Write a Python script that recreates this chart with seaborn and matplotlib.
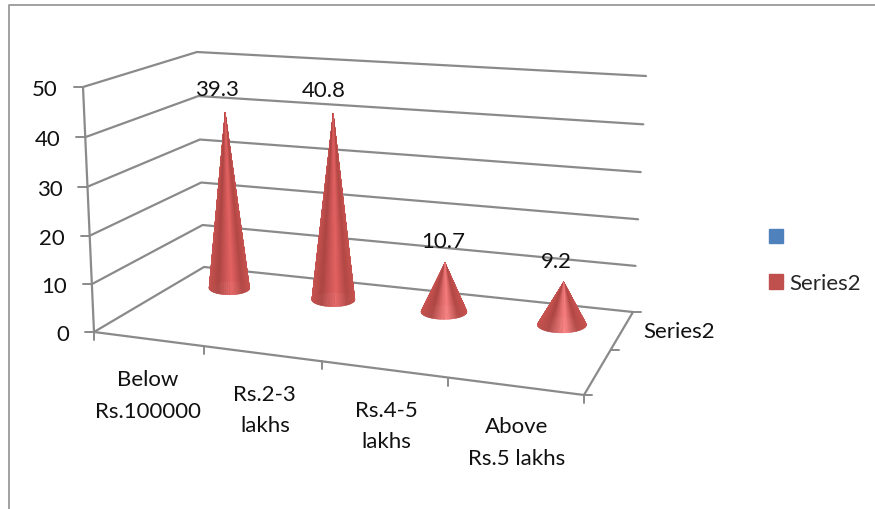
import numpy as np
import pandas as pd
import matplotlib
matplotlib.use("Agg")
import matplotlib.pyplot as plt
from matplotlib.collections import PolyCollection
from matplotlib.colors import to_rgb
from matplotlib.patches import Patch
import seaborn as sns

# Chart data
categories = ["Below\nRs.100000", "Rs.2-3\nlakhs", "Rs.4-5\nlakhs", "Above\nRs.5 lakhs"]
series_name = "Series2"
values = [39.3, 40.8, 10.7, 9.2]
value_ticks = [0, 10, 20, 30, 40, 50]

# Page position of the 3D box: floor corners and the page vector of the full axis height at each
unit_square = [(0, 0), (1, 0), (1, 1), (0, 1)]
floor_quad = [(94, 332), (584, 395), (633, 312), (204, 267)]
height_vectors = np.array([(-11, -245), (12, -252), (13, -236), (-7, -215)], float)
axis_max = 50.0
series_depth = 0.735
cone_nudge = 0.0045
cone_radius = 0.05
ellipse_ratio = 0.33
label_shift = [(-8, -23), (-9, -23), (-2, -22), (-7, -21)]
category_shift = [0, 3, 3, 2]

GRID = "#8a8a8a"
FRAME = "#9a9a9a"
TEXT = "#111111"
FONT = 16.0


def homography(src, dst):
    rows, rhs = [], []
    for (x, y), (a, b) in zip(src, dst):
        rows.append([x, y, 1, 0, 0, 0, -a * x, -a * y])
        rows.append([0, 0, 0, x, y, 1, -b * x, -b * y])
        rhs += [a, b]
    return np.append(np.linalg.solve(np.array(rows, float), np.array(rhs, float)), 1).reshape(3, 3)


H_floor = homography(unit_square, floor_quad)


def project(u, v, value=0.0):
    """Map category position u, depth v and a value on the y axis to the page."""
    p = H_floor @ np.array([u, v, 1.0])
    base = p[:2] / p[2]
    t = value / axis_max
    t = t / (t + (1 - t) * 1.03)
    up = ((1 - u) * (1 - v) * height_vectors[0] + u * (1 - v) * height_vectors[1]
          + u * v * height_vectors[2] + (1 - u) * v * height_vectors[3])
    return base + up * t


def gridline_table():
    frames = []
    for level in value_ticks:
        pts = [project(0, 0, level), project(0, 1, level), project(1, 1, level)]
        frames.append(pd.DataFrame({"x": [p[0] for p in pts], "y": [p[1] for p in pts], "line": f"g{level}"}))
    edges = {
        "axis": [project(0, 0, 0), project(0, 0, axis_max)],
        "front": [project(0, 0), project(1, 0)],
        "side": [project(1, 0), project(1, 1)],
    }
    for name, pts in edges.items():
        frames.append(pd.DataFrame({"x": [p[0] for p in pts], "y": [p[1] for p in pts], "line": name}))
    return pd.concat(frames, ignore_index=True)


def shade(s, highlight):
    """Colour of the cone surface at horizontal position s in [-1, 1]."""
    stops = [-1.0, -0.55, 0.12, 0.62, 1.0]
    cols = [to_rgb("#c8524f"), to_rgb("#ad4644"), to_rgb(highlight), to_rgb("#b24845"), to_rgb("#c8524f")]
    return tuple(np.interp(s, stops, [c[i] for c in cols]) for i in range(3))


def draw_cone(ax, u, value):
    cx, cy = project(u, series_depth)
    tip = project(u, series_depth, value)
    a = np.linalg.norm(project(u + cone_radius, series_depth) - project(u - cone_radius, series_depth)) / 2
    b = a * ellipse_ratio
    # Highlight is stronger on the short cones
    low, high = np.array(to_rgb("#ff8888")), np.array(to_rgb("#e46262"))
    highlight = tuple(low + (high - low) * min(value / 40.0, 1.0))
    step = 2 * np.pi / 180
    theta = np.arange(180) * step
    theta = theta[np.argsort(np.sin(theta + step / 2))]  # far side of the rim first
    polys, colours = [], []
    for th in theta:
        p0 = (cx + a * np.cos(th), cy + b * np.sin(th))
        p1 = (cx + a * np.cos(th + step), cy + b * np.sin(th + step))
        polys.append([tip, p0, p1])
        colours.append(shade(np.cos(th + step / 2), highlight))
    ax.add_collection(PolyCollection(polys, facecolors=colours, edgecolors=colours, linewidths=0.3, zorder=3))
    return tip


sns.set_theme(style="white")
plt.rcParams["font.family"] = ["Lato", "DejaVu Sans"]

fig = plt.figure(figsize=(8.75, 5.1), dpi=100)
ax = fig.add_axes([0, 0, 1, 1])
ax.set_xlim(0, 875)
ax.set_ylim(509, -1)
ax.set_axis_off()

# Outer chart frame (left and top sides are the only ones inside the canvas)
ax.plot([8.5, 8.5, 875], [510, 4.5, 4.5], color=FRAME, lw=1.3, zorder=1)

# Walls and floor of the 3D box
sns.lineplot(data=gridline_table(), x="x", y="y", units="line", estimator=None, sort=False,
             color=GRID, lw=1.6, legend=False, ax=ax, zorder=2)
ax.set_xlabel("")
ax.set_ylabel("")

# Tick marks and labels of the value axis
for level in value_ticks:
    x, y = project(0, 0, level)
    ax.plot([x - 9, x], [y, y], color=GRID, lw=1.4, zorder=2)
    ax.text(x - 25, y + 2, str(level), ha="right", va="center", fontsize=FONT, color=TEXT)

# Tick marks and labels of the category axis
for i in range(len(categories) + 1):
    x, y = project(i / len(categories), 0)
    ax.plot([x, x], [y, y + 8], color=GRID, lw=1.4, zorder=2)
for i, name in enumerate(categories):
    x, y = project((i + 0.5) / len(categories), 0)
    ax.text(x + category_shift[i], y + 56, name, ha="center", va="center", fontsize=FONT,
            color=TEXT, linespacing=1.7)

# Tick marks and label of the depth axis
for v in (0, 0.5, 1):
    x, y = project(1, v)
    ax.plot([x, x + 8], [y, y], color=GRID, lw=1.4, zorder=2)
ax.text(643, 331, series_name, ha="left", va="center", fontsize=FONT, color=TEXT)

# Cones with their value labels
for i, value in enumerate(values):
    tip = draw_cone(ax, (i + 0.5) / len(values) + cone_nudge, value)
    dx, dy = label_shift[i]
    ax.text(tip[0] + dx, tip[1] + dy, f"{value:g}", ha="center", va="center",
            fontsize=FONT, color=TEXT, zorder=4)

# Legend, whose first entry has an empty name
handles = [Patch(color="#4f81bd", label=" "), Patch(color="#c0504d", label=series_name)]
ax.legend(handles=handles, loc="upper left", bbox_to_anchor=(769 / 875, 1 - 229 / 510), frameon=False,
          fontsize=FONT, handlelength=0.63, handleheight=0.63, handletextpad=0.27, labelspacing=1.13,
          borderpad=0, borderaxespad=0)

fig.savefig("out.png", dpi=100, facecolor="white")
